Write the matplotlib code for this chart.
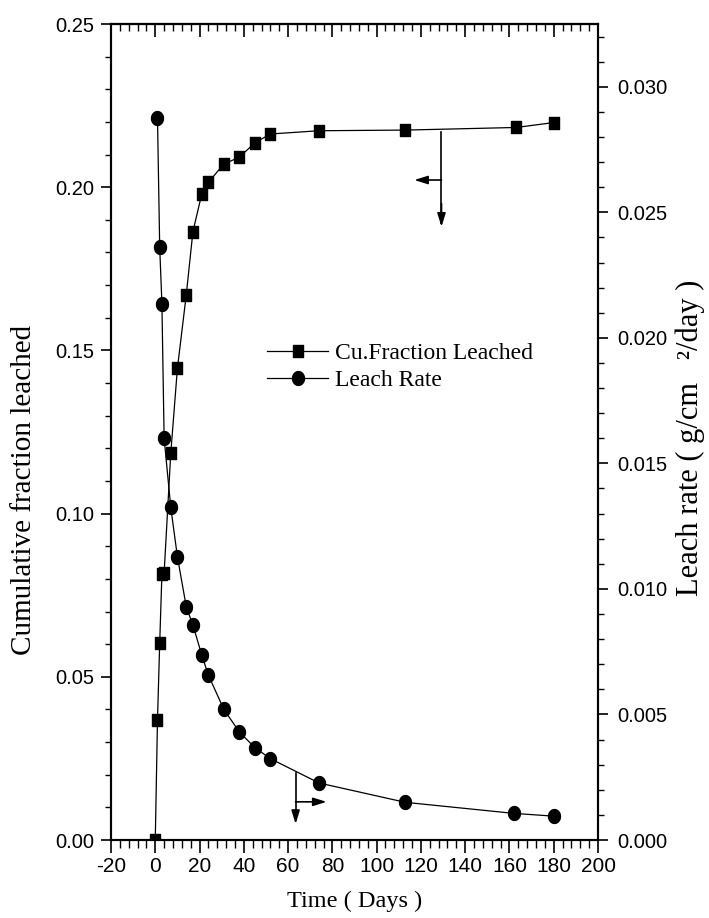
import matplotlib
matplotlib.use("Agg")
import matplotlib.pyplot as plt
import numpy as np
from matplotlib.path import Path
from matplotlib.ticker import MultipleLocator, FixedLocator

# ---- data ----
days_frac = [0, 1, 2, 3, 4, 7, 10, 14, 17, 21, 24, 31, 38, 45, 52, 74, 113, 163, 180]
cum_fraction = [0.0, 0.0368, 0.0603, 0.0815, 0.0818, 0.1185, 0.1445, 0.167, 0.1864,
                0.1979, 0.2015, 0.2071, 0.2092, 0.2136, 0.2163, 0.2173, 0.2175, 0.2183, 0.2198]
days_rate = [1, 2, 3, 4, 7, 10, 14, 17, 21, 24, 31, 38, 45, 52, 74, 113, 162, 180]
leach_rate = [0.02877, 0.02361, 0.02136, 0.0160, 0.01325, 0.01128, 0.00929, 0.00856,
              0.00737, 0.00656, 0.0052, 0.0043, 0.00368, 0.00324, 0.00227, 0.0015,
              0.00106, 0.00095]
x_ticks = [-20, 0, 20, 40, 60, 80, 100, 120, 140, 160, 180, 200]
y_left_ticks = [0.00, 0.05, 0.10, 0.15, 0.20, 0.25]
y_right_ticks = [0.000, 0.005, 0.010, 0.015, 0.020, 0.025, 0.030]

sans = ['Liberation Sans', 'DejaVu Sans']
serif = ['Liberation Serif', 'DejaVu Serif']

# slightly tall markers (the reference is a little stretched vertically)
t = np.linspace(0, 2 * np.pi, 61)
ellipse = Path(np.column_stack([0.43 * np.cos(t), 0.5 * np.sin(t)]), closed=True)
rect = Path([(-0.45, -0.5), (0.45, -0.5), (0.45, 0.5), (-0.45, 0.5), (-0.45, -0.5)], closed=True)

fig = plt.figure(figsize=(7.09, 9.18), dpi=100)
ax = fig.add_axes([111/709, 1-840/918, 487/709, 816/918])
ax2 = ax.twinx()

l1, = ax.plot(days_frac, cum_fraction, color='black', lw=0.9, marker=rect, ms=8.5,
              mfc='black', mec='black', label='Cu.Fraction Leached')
l2, = ax2.plot(days_rate, leach_rate, color='black', lw=0.9, marker=ellipse, ms=10,
               mfc='black', mec='black', label='Leach Rate')

ax.set_xlim(-20, 200)
ax.set_ylim(0, 0.25)
ax2.set_ylim(0, 0.0325)

ax.xaxis.set_major_locator(FixedLocator(x_ticks))
ax.xaxis.set_minor_locator(MultipleLocator(4))
ax.yaxis.set_major_locator(FixedLocator(y_left_ticks))
ax.yaxis.set_minor_locator(MultipleLocator(0.01))
ax2.yaxis.set_major_locator(FixedLocator(y_right_ticks))
ax2.yaxis.set_minor_locator(MultipleLocator(0.001))

ax.set_xticklabels([str(v) for v in x_ticks], fontfamily=sans, fontsize=15)
ax.set_yticklabels(['%.2f' % v for v in y_left_ticks], fontfamily=sans, fontsize=14.5)
ax2.set_yticklabels(['%.3f' % v for v in y_right_ticks], fontfamily=sans, fontsize=14.5)

for a in (ax, ax2):
    for s in a.spines.values():
        s.set_linewidth(1.5)

ax.tick_params(axis='x', which='major', direction='out', length=9, width=1.2, pad=3)
ax.tick_params(axis='x', which='minor', direction='out', length=5.5, width=1.0)
ax.tick_params(axis='y', which='major', direction='out', length=7, width=1.2, pad=5)
ax.tick_params(axis='y', which='minor', direction='out', length=4, width=1.0)
ax2.tick_params(axis='y', which='major', direction='out', length=7, width=1.2, pad=7)
ax2.tick_params(axis='y', which='minor', direction='out', length=4, width=1.0)

# top axis ticks (inward, no labels)
axt = ax.secondary_xaxis('top')
axt.xaxis.set_major_locator(FixedLocator(x_ticks))
axt.xaxis.set_minor_locator(MultipleLocator(4))
axt.tick_params(axis='x', which='major', direction='in', length=9, width=1.2, labeltop=False)
axt.tick_params(axis='x', which='minor', direction='in', length=5, width=1.0)
axt.spines['top'].set_linewidth(1.5)

# axis titles
fig.text(355/709, 1-901/918, 'Time ( Days )', fontfamily=serif, fontsize=17.5,
         ha='center', va='center')
fig.text(24/709, 1-490/918, 'Cumulative fraction leached', fontfamily=serif, fontsize=21,
         ha='center', va='center', rotation=90)
fig.text(690/709, 1-438/918, 'Leach rate ( g/cm   \u00b2/day )', fontfamily=serif,
         fontsize=22, ha='center', va='center', rotation=90)

# arrows indicating which axis each curve belongs to
arrow_kw = dict(arrowstyle='-|>,head_length=0.8,head_width=0.25', color='black', lw=1.2,
                shrinkA=0, shrinkB=0)
ax.plot([129.3, 129.3], [0.217, 0.1890], color='black', lw=1.2)
ax.annotate('', xy=(129.3, 0.1879), xytext=(129.3, 0.195), arrowprops=arrow_kw)
ax.annotate('', xy=(117.0, 0.2022), xytext=(129.3, 0.2022), arrowprops=arrow_kw)
ax2.plot([63.4, 63.4], [0.00268, 0.0009], color='black', lw=1.2)
ax2.annotate('', xy=(63.4, 0.00064), xytext=(63.4, 0.0012), arrowprops=arrow_kw)
ax2.annotate('', xy=(77.4, 0.00152), xytext=(63.4, 0.00152), arrowprops=arrow_kw)

leg = ax2.legend(handles=[l1, l2], loc='center left', bbox_to_anchor=(0.32, 0.58),
                 frameon=False, prop={'family': serif, 'size': 17}, handlelength=2.6,
                 handletextpad=0.3, labelspacing=0.25, borderpad=0, borderaxespad=0,
                 markerscale=1.0)

fig.savefig('out.png', dpi=100)
